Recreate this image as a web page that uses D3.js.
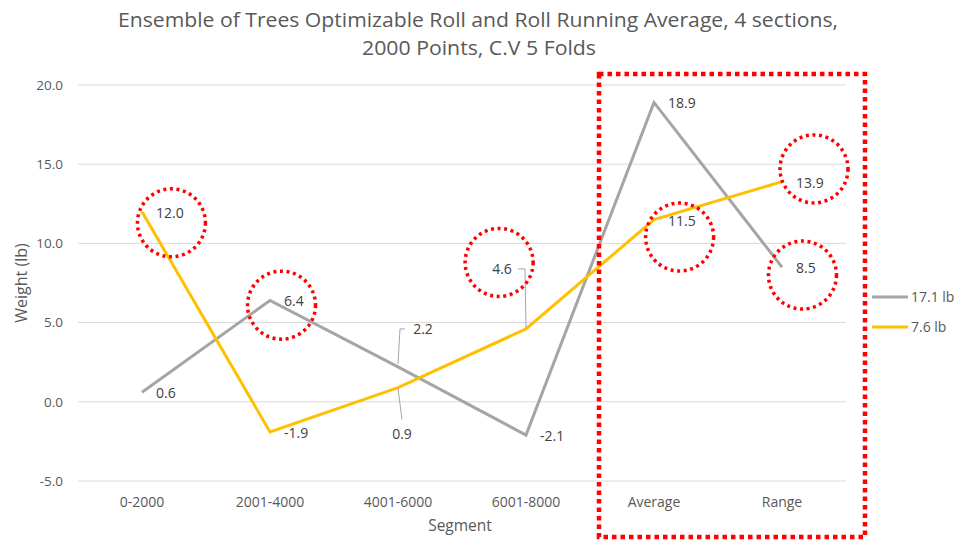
<!DOCTYPE html>
<html>
<head>
<meta charset="utf-8">
<script src="https://cdn.jsdelivr.net/npm/d3@7"></script>
<style>
  body { margin: 0; background: #fff; }
  text { font-family: "Open Sans", sans-serif; fill: #595959; }
</style>
</head>
<body>
<script>
// categories and series
var segments = ["0-2000", "2001-4000", "4001-6000", "6001-8000", "Average", "Range"];
var graySeries = [0.6, 6.4, 2.2, -2.1, 18.9, 8.5];
var yellowSeries = [12.0, -1.9, 0.9, 4.6, 11.5, 13.9];
var seriesNames = ["17.1 lb", "7.6 lb"];
var yTicks = [-5, 0, 5, 10, 15, 20];

// red dotted circles: category, offset in bands, value
var circles = [
  { cat: "0-2000", dx: 0.23, v: 11.3 },
  { cat: "2001-4000", dx: 0.09, v: 6.1 },
  { cat: "6001-8000", dx: -0.21, v: 8.8 },
  { cat: "Average", dx: 0.2, v: 10.4 },
  { cat: "Range", dx: 0.25, v: 14.7 },
  { cat: "Range", dx: 0.16, v: 8.0 }
];

var width = 956, height = 540;
var margin = { top: 85, right: 110, bottom: 59, left: 78 };

var svg = d3.select("body").append("svg")
  .attr("width", width)
  .attr("height", height);

var x = d3.scaleBand().domain(segments).range([margin.left, width - margin.right]);
var y = d3.scaleLinear().domain([-5, 20]).range([height - margin.bottom, margin.top]);
var xc = function (c) { return x(c) + x.bandwidth() / 2; };
// plain hyphen for negatives, like the original
var fmt = function (v) { return v.toFixed(1); };

// title
var title = svg.append("text")
  .attr("text-anchor", "middle")
  .style("font-size", "20px");
title.append("tspan").attr("x", 478).attr("y", 27)
  .attr("textLength", 720).attr("lengthAdjust", "spacingAndGlyphs")
  .text("Ensemble of Trees Optimizable Roll and Roll Running Average, 4 sections,");
title.append("tspan").attr("x", 479).attr("y", 55)
  .attr("textLength", 234).attr("lengthAdjust", "spacingAndGlyphs")
  .text("2000 Points, C.V 5 Folds");

// gridlines + y labels
svg.append("g").selectAll("line").data(yTicks).join("line")
  .attr("x1", margin.left).attr("x2", width - margin.right)
  .attr("y1", function (d) { return y(d); }).attr("y2", function (d) { return y(d); })
  .attr("stroke", "#d9d9d9").attr("stroke-width", 1);

svg.append("g").selectAll("text").data(yTicks).join("text")
  .attr("x", 63).attr("y", function (d) { return y(d); })
  .attr("dy", "0.35em").attr("text-anchor", "end")
  .style("font-size", "13.5px")
  .text(fmt);

// x labels
svg.append("g").selectAll("text").data(segments).join("text")
  .attr("x", function (d) { return xc(d); }).attr("y", height - margin.bottom + 21)
  .attr("dy", "0.35em").attr("text-anchor", "middle")
  .style("font-size", "14px")
  .text(function (d) { return d; });

// axis titles
svg.append("text")
  .attr("x", 460).attr("y", 526).attr("dy", "0.35em")
  .attr("text-anchor", "middle").style("font-size", "15.5px")
  .text("Segment");
svg.append("text")
  .attr("transform", "translate(21," + y(7.5) + ") rotate(-90)")
  .attr("dy", "0.35em").attr("text-anchor", "middle").style("font-size", "16px")
  .text("Weight (lb)");

// lines
var series = [
  { name: seriesNames[0], values: graySeries, color: "#a5a5a5" },
  { name: seriesNames[1], values: yellowSeries, color: "#ffc000" }
];
var line = d3.line()
  .x(function (d, i) { return xc(segments[i]); })
  .y(function (d) { return y(d); });

series.forEach(function (s) {
  svg.append("path")
    .datum(s.values)
    .attr("fill", "none")
    .attr("stroke", s.color)
    .attr("stroke-width", 3)
    .attr("d", line);
});

// data labels; three of them use leader lines
var leaders = {
  "0-2": { dx: 25, dy: -38, path: [[7, -38], [2, -38], [0, -3]] },
  "1-2": { dx: 4, dy: 47, path: [[0, 1], [4, 32]] },
  "1-3": { dx: -24, dy: -60, path: [[-8, -60], [-1, -60], [0, -1]] }
};
series.forEach(function (s, si) {
  s.values.forEach(function (v, i) {
    var px = xc(segments[i]), py = y(v);
    var ld = leaders[si + "-" + i];
    if (ld) {
      svg.append("path")
        .attr("d", d3.line()(ld.path.map(function (p) { return [px + p[0], py + p[1]]; })))
        .attr("fill", "none").attr("stroke", "#a6a6a6").attr("stroke-width", 1);
      svg.append("text")
        .attr("x", px + ld.dx).attr("y", py + ld.dy).attr("dy", "0.35em")
        .attr("text-anchor", "middle").style("font-size", "14px")
        .style("fill", "#404040")
        .text(fmt(v));
    } else {
      svg.append("text")
        .attr("x", px + 14).attr("y", py + 1).attr("dy", "0.35em")
        .style("font-size", "14px").style("fill", "#404040")
        .text(fmt(v));
    }
  });
});

// red dotted circles
svg.append("g").selectAll("circle").data(circles).join("circle")
  .attr("cx", function (d) { return xc(d.cat) + d.dx * x.bandwidth(); })
  .attr("cy", function (d) { return y(d.v); })
  .attr("r", 34)
  .attr("fill", "none")
  .attr("stroke", "#ff0000")
  .attr("stroke-width", 3.5)
  .attr("stroke-dasharray", "3 3.6");

// red dotted box round Average and Range
var boxLeft = x("Average") + 9;
svg.append("rect")
  .attr("x", boxLeft).attr("y", y(20) - 11)
  .attr("width", x("Range") + x.bandwidth() + 19 - boxLeft)
  .attr("height", 463)
  .attr("fill", "none")
  .attr("stroke", "#ff0000")
  .attr("stroke-width", 4.5)
  .attr("stroke-dasharray", "4.5 4");

// legend
var legend = svg.append("g");
series.forEach(function (s, i) {
  var ly = 297 + i * 30;
  legend.append("line")
    .attr("x1", 872).attr("x2", 908).attr("y1", ly).attr("y2", ly)
    .attr("stroke", s.color).attr("stroke-width", 3);
  legend.append("text")
    .attr("x", 911).attr("y", ly).attr("dy", "0.35em")
    .style("font-size", "14px")
    .text(s.name);
});
</script>
</body>
</html>
